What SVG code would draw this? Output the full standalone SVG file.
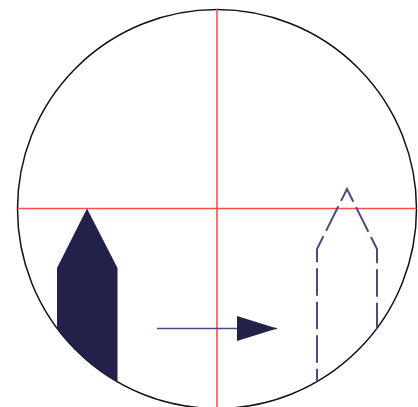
<svg xmlns="http://www.w3.org/2000/svg" width="418" height="407" viewBox="0 0 418 407">
<style>
.axis{stroke:#ff4d4d;stroke-width:1.6;fill:none}
.solid{fill:#22214a;stroke:none}
.ghost{fill:none;stroke:#4b4b7d;stroke-width:2;stroke-dasharray:27.5 6;stroke-dashoffset:-3.8}
.conn{stroke:#4b4b7d;stroke-width:1.5;fill:none}
</style>
<defs>
<clipPath id="c"><circle cx="217" cy="209" r="199.5"/></clipPath>
<marker id="ah" markerUnits="userSpaceOnUse" markerWidth="40" markerHeight="25" refX="40" refY="12.5" orient="auto"><path d="M0,0 L40,12.5 L0,25 Z" fill="#22214a"/></marker>
</defs>
<rect width="418" height="407" fill="#fff"/>
<g id="lens">
<circle cx="217" cy="209" r="199.5" fill="none" stroke="#111" stroke-width="1.5"/>
</g>
<g id="crosshair">
<line class="axis" x1="217" y1="9" x2="217" y2="407"/>
<line class="axis" x1="17.5" y1="208.5" x2="416.5" y2="208.5"/>
</g>
<g id="object" clip-path="url(#c)">
<polygon class="solid" points="87,208.5 117.5,268 117.5,410 57,410 57,268"/>
</g>
<g id="image" clip-path="url(#c)">
<polyline class="ghost" points="317,400 317,249 347,189 377,249 377,400"/>
</g>
<g id="connectors">
<line class="conn" x1="157" y1="328.5" x2="277" y2="328.5" marker-end="url(#ah)"/>
</g>
</svg>
